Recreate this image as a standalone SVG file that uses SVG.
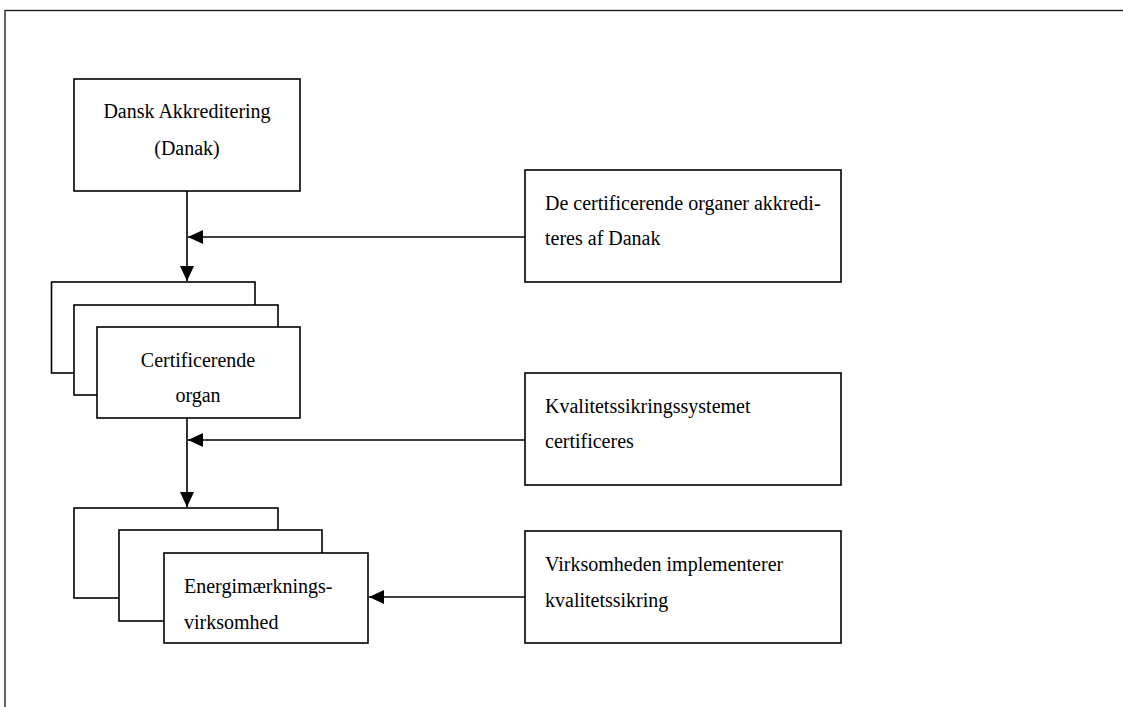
<svg xmlns="http://www.w3.org/2000/svg" width="1123" height="707" viewBox="0 0 1123 707">
<defs>
<style>
.box{fill:#fff;stroke:#000;stroke-width:1.6}
.t{font-family:"Liberation Serif","Times New Roman",serif;font-size:20px;fill:#000}
.c{text-anchor:middle}
.ln{stroke:#000;stroke-width:1.6;fill:none}
</style>
<marker id="ah" markerUnits="userSpaceOnUse" markerWidth="16" markerHeight="16" refX="15" refY="7" orient="auto">
<path d="M0,0 L15,7 L0,14 Z" fill="#000"/>
</marker>
</defs>
<rect width="1123" height="707" fill="#fff"/>
<rect x="5" y="10.5" width="1300" height="900" fill="none" stroke="#222" stroke-width="1.4"/>
<g id="connectors">
<line class="ln" x1="187" y1="191" x2="187" y2="281" marker-end="url(#ah)"/>
<line class="ln" x1="525" y1="237" x2="188" y2="237" marker-end="url(#ah)"/>
<line class="ln" x1="187" y1="418" x2="187" y2="507" marker-end="url(#ah)"/>
<line class="ln" x1="525" y1="440" x2="188" y2="440" marker-end="url(#ah)"/>
<line class="ln" x1="525" y1="597" x2="369" y2="597" marker-end="url(#ah)"/>
</g>
<g id="danak">
<rect class="box" x="74" y="79" width="226" height="112"/>
<text class="t c" x="187" y="118">Dansk Akkreditering</text>
<text class="t c" x="187" y="155">(Danak)</text>
</g>
<g id="certificerende">
<rect class="box" x="51.5" y="282" width="203.5" height="91"/>
<rect class="box" x="74" y="305" width="204" height="90"/>
<rect class="box" x="97" y="327" width="203" height="91"/>
<text class="t c" x="198" y="367">Certificerende</text>
<text class="t c" x="198" y="402">organ</text>
</g>
<g id="energi">
<rect class="box" x="74" y="508" width="204" height="90"/>
<rect class="box" x="119" y="530" width="203" height="91"/>
<rect class="box" x="164" y="553" width="204" height="90"/>
<text class="t" x="184" y="593">Energimærknings-</text>
<text class="t" x="184" y="629">virksomhed</text>
</g>
<g id="note1">
<rect class="box" x="525" y="170" width="316" height="112"/>
<text class="t" x="545" y="210">De certificerende organer akkredi-</text>
<text class="t" x="545" y="245">teres af Danak</text>
</g>
<g id="note2">
<rect class="box" x="525" y="373" width="316" height="112"/>
<text class="t" x="545" y="413">Kvalitetssikringssystemet</text>
<text class="t" x="545" y="448">certificeres</text>
</g>
<g id="note3">
<rect class="box" x="525" y="531" width="316" height="112"/>
<text class="t" x="545" y="571">Virksomheden implementerer</text>
<text class="t" x="545" y="607">kvalitetssikring</text>
</g>
</svg>
